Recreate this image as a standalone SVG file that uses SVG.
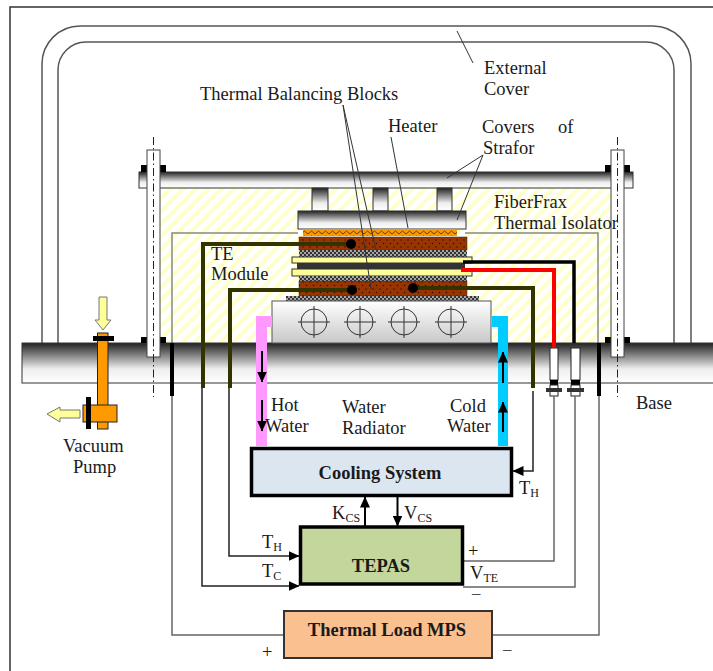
<svg xmlns="http://www.w3.org/2000/svg" width="713" height="671" viewBox="0 0 713 671">
<style>
text{font-family:"Liberation Serif","Times New Roman",serif;font-size:18.500px;fill:#1a1a1a}
.b{font-weight:bold;font-size:18.500px;text-anchor:middle}
.s{font-size:12px}
.lead{stroke:#333;stroke-width:1;fill:none}
.cover{fill:none;stroke:#555;stroke-width:1.5}
.steel{fill:url(#steel);stroke:#333;stroke-width:1}
.wire{fill:none;stroke:#333300;stroke-width:4}
.sig{fill:none;stroke:#666;stroke-width:1.5}
.sigk{fill:none;stroke:#222;stroke-width:1.5}
.box{stroke:#000}
.ar{fill:none;stroke:#000;stroke-width:2}
.dot{fill:#000}
.y{fill:#FFFF99;stroke:#333;stroke-width:1}
.k{fill:#000}
.o{fill:#FF9900;stroke:#222;stroke-width:1}
.c{fill:none;stroke:#333;stroke-width:1}
.cd{fill:none;stroke:#222;stroke-width:1;stroke-dasharray:8 3 1.5 3}
.ya{fill:#FFFF99;stroke:#777;stroke-width:1}
</style>
<defs>
<linearGradient id="steel" x1="0" y1="0" x2="0" y2="1"><stop offset="0" stop-color="#222"/><stop offset=".65" stop-color="#eee"/><stop offset="1" stop-color="#fff"/></linearGradient>
<linearGradient id="rad" x1="0" y1="0" x2="0" y2="1"><stop offset="0" stop-color="#fff"/><stop offset="1" stop-color="#c8c8c8"/></linearGradient>
<pattern id="hatch" width="9" height="9" patternUnits="userSpaceOnUse" patternTransform="rotate(45)"><rect width="9" height="9" fill="#fff"/><rect width="4" height="9" fill="#FFFFCC"/></pattern>
<pattern id="brown" width="7" height="7" patternUnits="userSpaceOnUse"><rect width="7" height="7" fill="#993300"/><circle cx="2" cy="2" r=".7" fill="#111"/><circle cx="5.5" cy="5.5" r=".7" fill="#111"/></pattern>
<pattern id="ceramic" width="4" height="4" patternUnits="userSpaceOnUse"><rect width="4" height="4" fill="#333"/><circle cx="1" cy="1" r=".9" fill="#ddd"/><circle cx="3" cy="3" r=".9" fill="#ddd"/></pattern>
<pattern id="zig" width="7" height="5" patternUnits="userSpaceOnUse"><rect width="7" height="5" fill="#FF9900"/><path d="M0 4L3.500 1L7 4" fill="none" stroke="#664000" stroke-width="1"/></pattern>
<marker id="ah" markerWidth="11" markerHeight="10" refX="10.500" refY="5" orient="auto" markerUnits="userSpaceOnUse"><path d="M0 0L11 5L0 10Z" fill="#000"/></marker>
</defs>
<rect width="713" height="671" fill="#fff"/>
<path id="frame" d="M10 671V7H713" fill="none" stroke="#333" stroke-width="1.500"/>

<g id="external-cover">
<path class="cover" d="M42 343V64A38 38 0 0 1 80 26H653A38 38 0 0 1 691 64V343"/>
<path class="cover" d="M58 343V70A28 28 0 0 1 86 42H646A28 28 0 0 1 674 70V343"/>
</g>

<g id="insulation">
<rect x="160" y="188" width="451" height="155" fill="url(#hatch)"/>
<path d="M172 343V233H298M465 233H598V343" fill="none" stroke="#888" stroke-width="1.500"/>
</g>

<g id="base"><rect class="steel" x="22" y="343" width="700" height="40"/></g>

<g id="top-plate">
<rect class="steel" x="139" y="172" width="494" height="16"/>
<rect class="steel" x="312" y="188" width="16" height="23"/>
<rect class="steel" x="373" y="188" width="15" height="23"/>
<rect class="steel" x="437" y="188" width="15" height="23"/>
</g>

<g id="bolts">
<rect class="k" x="141" y="165" width="25" height="7"/><rect class="k" x="141" y="337" width="25" height="6"/>
<rect class="k" x="605" y="165" width="25" height="7"/><rect class="k" x="605" y="337" width="25" height="6"/>
<rect x="147" y="150" width="13" height="207" fill="#fff" stroke="#444" stroke-width="1"/>
<rect x="611" y="150" width="13" height="207" fill="#fff" stroke="#444" stroke-width="1"/>
<path class="cd" d="M153.500 137V397M617.500 137V397"/>
</g>

<g id="stack">
<rect class="steel" x="298" y="211" width="168" height="18"/>
<rect x="303" y="229" width="154" height="7" fill="url(#zig)"/>
<rect x="299" y="237" width="168" height="13" fill="url(#brown)" stroke="#333" stroke-width=".5"/>
<rect x="299" y="250" width="168" height="7" fill="url(#ceramic)"/>
<rect class="y" x="292" y="257" width="180" height="6"/>
<rect x="297" y="263" width="168" height="6" fill="#333"/>
<rect class="y" x="292" y="269" width="180" height="7"/>
<rect x="299" y="276" width="168" height="5" fill="url(#ceramic)"/>
<rect x="299" y="281" width="168" height="15" fill="url(#brown)" stroke="#333" stroke-width=".5"/>
<rect x="286" y="296" width="193" height="5" fill="url(#ceramic)"/>
</g>

<g id="water-radiator">
<rect x="272" y="301" width="219" height="42" fill="url(#rad)" stroke="#555" stroke-width="1"/>
<path class="c" d="M298 322H330M314 306V338M344 322H376M360 306V338M388 322H420M404 306V338M435 322H467M451 306V338"/>
<circle class="c" cx="314" cy="322" r="13"/><circle class="c" cx="360" cy="322" r="13"/><circle class="c" cx="404" cy="322" r="13"/><circle class="c" cx="451" cy="322" r="13"/>
</g>

<g id="water-pipes">
<path d="M272 316H256V446H267V327H272Z" fill="#FF99FF"/>
<path d="M492 316H508V446H498V327H492Z" fill="#00CCFF"/>
</g>

<g id="vacuum-pump">
<rect class="o" x="97.500" y="333" width="10.500" height="96"/>
<rect x="93" y="336" width="21" height="5" class="k"/>
<rect class="o" x="83" y="405" width="34" height="17"/>
<rect x="86" y="397" width="5" height="32" class="k"/>
<path class="ya" d="M99 297H107V320H111L103 330L95 320H99Z"/>
<path class="ya" d="M80 410V418H60V422L47 414L60 407V410Z"/>
</g>

<g id="terminals">
<rect x="550" y="348" width="8" height="32" fill="#fff" stroke="#222"/><rect x="550" y="380" width="8" height="5" class="k"/><rect x="550" y="385" width="8" height="11" fill="#fff" stroke="#222"/><rect x="546" y="388" width="16" height="4" fill="#333"/>
<rect x="571" y="348" width="9" height="32" fill="#fff" stroke="#222"/><rect x="571" y="380" width="9" height="5" class="k"/><rect x="571" y="385" width="9" height="11" fill="#fff" stroke="#222"/><rect x="567" y="388" width="17" height="4" fill="#333"/>
</g>

<g id="connectors">
<path class="wire" d="M351 244H203V388"/>
<path class="wire" d="M352 290H230V388"/>
<path class="wire" d="M413 288H533V388"/>
<circle class="dot" cx="351" cy="244" r="5"/><circle class="dot" cx="352" cy="290" r="5"/><circle class="dot" cx="413" cy="288" r="5"/>
<path d="M463 262H574V343" fill="none" stroke="#000" stroke-width="3.500"/>
<path d="M461 270H554V348" fill="none" stroke="#FF0000" stroke-width="4"/>
<path d="M172 343V396M599 343V396" fill="none" stroke="#000" stroke-width="4"/>
<path class="sig" d="M172 396V635H284M599 396V635H492M554 396V561H463M575 396V587H463"/>
<path class="sigk" d="M202 388V586H299" marker-end="url(#ah)"/>
<path class="sigk" d="M229 388V556H299" marker-end="url(#ah)"/>
<path class="sigk" d="M533 391V471H513" marker-end="url(#ah)"/>
<path class="ar" d="M365 527V497" marker-end="url(#ah)"/>
<path class="ar" d="M397.500 496V526" marker-end="url(#ah)"/>
<path class="ar" d="M262 351V382" marker-end="url(#ah)"/>
<path class="ar" d="M262 400V431" marker-end="url(#ah)"/>
<path class="ar" d="M503 383V352" marker-end="url(#ah)"/>
<path class="ar" d="M503 432V402" marker-end="url(#ah)"/>
<path class="lead" d="M457 31L473 63M343 105L376 250M343 105L371 289M391 137L408 228M483 155L447 178M483 155L457 220"/>
</g>

<g id="cooling-system"><rect class="box" x="251.500" y="448.500" width="260" height="47" fill="#DCE6F1" stroke-width="3.500"/><text class="b" x="380" y="479">Cooling System</text></g>
<g id="tepas"><rect class="box" x="300.500" y="527" width="162" height="57" fill="#C3D69B" stroke-width="3.500"/><text class="b" x="381" y="572">TEPAS</text></g>
<g id="thermal-load-mps"><rect x="284" y="611" width="208" height="47" fill="#FAC090" stroke="#333" stroke-width="2"/><text class="b" x="387" y="636">Thermal Load MPS</text></g>

<g id="labels">
<text x="484" y="74">External</text><text x="484" y="95">Cover</text>
<text x="200" y="100">Thermal Balancing Blocks</text>
<text x="388" y="132">Heater</text>
<text x="482" y="133">Covers</text><text x="558" y="133">of</text><text x="483" y="154">Strafor</text>
<text x="494" y="208">FiberFrax</text><text x="494" y="229">Thermal Isolator</text>
<text x="211" y="260">TE</text><text x="211" y="280">Module</text>
<text x="271" y="411">Hot</text><text x="265" y="432">Water</text>
<text x="342" y="413">Water</text><text x="342" y="434">Radiator</text>
<text x="450" y="412">Cold</text><text x="447" y="432">Water</text>
<text x="636" y="409">Base</text>
<text x="63" y="452">Vacuum</text><text x="73" y="473">Pump</text>
<text x="519" y="494">T<tspan class="s" dy="3">H</tspan></text>
<text x="332" y="519">K<tspan class="s" dy="3">CS</tspan></text>
<text x="404" y="519">V<tspan class="s" dy="3">CS</tspan></text>
<text x="262" y="548">T<tspan class="s" dy="3">H</tspan></text>
<text x="262" y="577">T<tspan class="s" dy="3">C</tspan></text>
<text x="468" y="557">+</text>
<text x="470" y="579">V<tspan class="s" dy="3">TE</tspan></text>
<text x="471" y="601">−</text>
<text x="262" y="658">+</text>
<text x="502" y="657">−</text>
</g>
</svg>
